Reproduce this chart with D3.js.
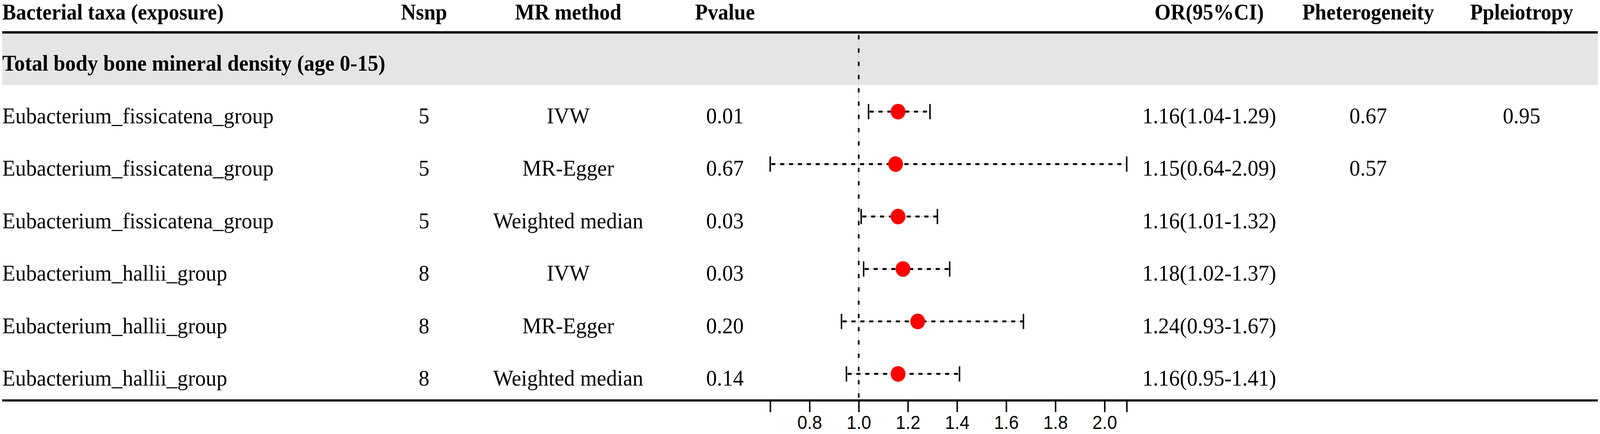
<!DOCTYPE html>
<html>
<head>
<meta charset="utf-8">
<script src="https://cdn.jsdelivr.net/npm/d3@7"></script>
<style>
  html, body { margin: 0; padding: 0; background: #fff; overflow: hidden; }
  svg { display: block; }
</style>
</head>
<body>
<svg id="chart"></svg>
<script>
// table data
const headers = ["Bacterial taxa (exposure)", "Nsnp", "MR method", "Pvalue", "OR(95%CI)", "Pheterogeneity", "Ppleiotropy"];
const sectionTitle = "Total body bone mineral density (age 0-15)";
const taxa = ["Eubacterium_fissicatena_group", "Eubacterium_fissicatena_group", "Eubacterium_fissicatena_group",
              "Eubacterium_hallii_group", "Eubacterium_hallii_group", "Eubacterium_hallii_group"];
const nsnp = [5, 5, 5, 8, 8, 8];
const methods = ["IVW", "MR-Egger", "Weighted median", "IVW", "MR-Egger", "Weighted median"];
const pvalues = ["0.01", "0.67", "0.03", "0.03", "0.20", "0.14"];
const or = [1.16, 1.15, 1.16, 1.18, 1.24, 1.16];
const lower = [1.04, 0.64, 1.01, 1.02, 0.93, 0.95];
const upper = [1.29, 2.09, 1.32, 1.37, 1.67, 1.41];
const pHet = ["0.67", "0.57", "", "", "", ""];
const pPleio = ["0.95", "", "", "", "", ""];
const tickValues = [0.64, 0.8, 1.0, 1.2, 1.4, 1.6, 1.8, 2.0, 2.09];

const width = 4328, height = 1112;
const serif = "'Liberation Serif', 'Times New Roman', serif";
const fontSize = 58;

// draw in the reference's pixel space and let the viewBox fit it to the window
const svg = d3.select("#chart")
    .attr("viewBox", `0 0 ${width} ${height}`)
    .attr("preserveAspectRatio", "none")
    .style("width", "100vw")
    .style("height", "100vh");

const rows = taxa.map((t, i) => ({
    taxa: t,
    nsnp: nsnp[i],
    method: methods[i],
    p: pvalues[i],
    or: or[i], lo: lower[i], hi: upper[i],
    ci: `${or[i].toFixed(2)}(${lower[i].toFixed(2)}-${upper[i].toFixed(2)})`,
    het: pHet[i],
    pleio: pPleio[i]
}));

const x = d3.scaleLinear()
    .domain([0.64, 2.09])
    .range([2083.4, 3047.7]);

const y = d3.scalePoint()
    .domain(d3.range(rows.length))
    .range([286, 958]);

// column anchors
const cols = [
    { x: 6, anchor: "start" },
    { x: 1147, anchor: "middle" },
    { x: 1537, anchor: "middle" },
    { x: 1961, anchor: "middle" },
    { x: 3271, anchor: "middle" },
    { x: 3701, anchor: "middle" },
    { x: 4116, anchor: "middle" }
];

// section band and rules
svg.append("rect")
    .attr("x", 6).attr("y", 86)
    .attr("width", 4316).attr("height", 132)
    .attr("fill", "#e5e5e5");

svg.append("line")
    .attr("x1", 6).attr("x2", 4322)
    .attr("y1", 83).attr("y2", 83)
    .attr("stroke", "#000").attr("stroke-width", 6);

// header
svg.append("g")
    .selectAll("text")
    .data(headers)
    .join("text")
    .attr("x", (d, i) => cols[i].x)
    .attr("y", 50)
    .attr("text-anchor", (d, i) => cols[i].anchor)
    .style("font-family", serif)
    .style("font-weight", "bold")
    .style("font-size", "56px")
    .text(d => d);

svg.append("text")
    .attr("x", 6)
    .attr("y", 181)
    .style("font-family", serif)
    .style("font-weight", "bold")
    .style("font-size", "57px")
    .text(sectionTitle);

// reference line at OR = 1
const refLine = svg.append("g");
refLine.append("line")
    .attr("x1", x(1)).attr("x2", x(1))
    .attr("y1", 87).attr("y2", 1022)
    .attr("stroke", "#c8c8c8").attr("stroke-width", 1.5);
refLine.append("line")
    .attr("x1", x(1)).attr("x2", x(1))
    .attr("y1", 90).attr("y2", 1022)
    .attr("stroke", "#000").attr("stroke-width", 4.5)
    .attr("stroke-dasharray", "11,23");

// table cells
const cellKeys = ["taxa", "nsnp", "method", "p", "ci", "het", "pleio"];
const rowG = svg.append("g")
    .selectAll("g")
    .data(rows)
    .join("g")
    .attr("transform", (d, i) => `translate(0, ${y(i) + 30})`);

rowG.selectAll("text")
    .data(d => cellKeys.map((k, j) => ({ v: d[k], j })))
    .join("text")
    .attr("x", d => cols[d.j].x)
    .attr("text-anchor", d => cols[d.j].anchor)
    .style("font-family", serif)
    .style("font-size", fontSize + "px")
    .text(d => d.v);

// confidence intervals
const ci = svg.append("g")
    .selectAll("g")
    .data(rows)
    .join("g")
    .attr("transform", (d, i) => `translate(0, ${y(i)})`);

ci.append("line")
    .attr("x1", d => x(d.lo)).attr("x2", d => x(d.hi))
    .attr("stroke", "#c8c8c8").attr("stroke-width", 1.5);
ci.append("line")
    .attr("x1", d => x(d.lo) + 3).attr("x2", d => x(d.hi))
    .attr("stroke", "#000").attr("stroke-width", 5)
    .attr("stroke-dasharray", "11,13");
ci.selectAll(".cap")
    .data(d => [d.lo, d.hi])
    .join("line")
    .attr("class", "cap")
    .attr("x1", d => x(d)).attr("x2", d => x(d))
    .attr("y1", -19.5).attr("y2", 19.5)
    .attr("stroke", "#000").attr("stroke-width", 4);
ci.append("circle")
    .attr("cx", d => x(d.or))
    .attr("r", 20)
    .attr("fill", "#ff0000");

// bottom rule and OR axis
svg.append("line")
    .attr("x1", 6).attr("x2", 4322)
    .attr("y1", 1026).attr("y2", 1026)
    .attr("stroke", "#000").attr("stroke-width", 5.5);

const axis = d3.axisBottom(x)
    .tickValues(tickValues)
    .tickSize(30)
    .tickPadding(9)
    .tickFormat(d => (d === 0.64 || d === 2.09) ? "" : d3.format(".1f")(d));

const axisG = svg.append("g")
    .attr("transform", "translate(0, 1026)")
    .call(axis);
axisG.select(".domain").remove();
axisG.selectAll(".tick line")
    .attr("stroke", "#000")
    .attr("stroke-width", 4);
axisG.selectAll(".tick text")
    .attr("fill", "#000")
    .style("font-family", "'Liberation Sans', Arial, sans-serif")
    .style("font-size", "48px");
</script>
</body>
</html>
